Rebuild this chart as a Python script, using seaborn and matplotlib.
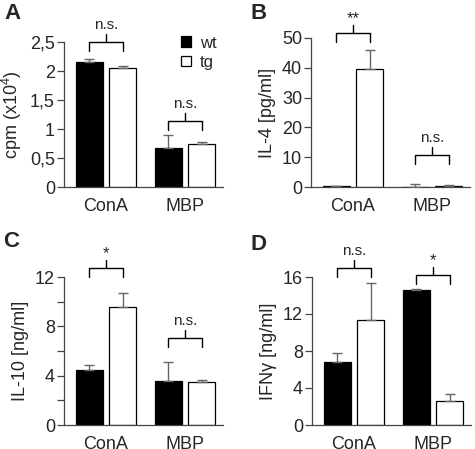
import pandas as pd
import seaborn as sns
import numpy as np
import matplotlib.pyplot as plt

# data
groups = ["ConA", "MBP"]
genotypes = ["wt", "tg"]

cpm_wt = [2.15, 0.68]
cpm_tg = [2.05, 0.75]
cpm_wt_err = [0.05, 0.21]
cpm_tg_err = [0.04, 0.02]

il4_wt = [0.3, 0.1]
il4_tg = [39.5, 0.2]
il4_wt_err = [0.1, 0.8]
il4_tg_err = [6.5, 0.5]

il10_wt = [4.5, 3.6]
il10_tg = [9.6, 3.45]
il10_wt_err = [0.35, 1.5]
il10_tg_err = [1.1, 0.2]

ifng_wt = [6.8, 14.6]
ifng_tg = [11.4, 2.6]
ifng_wt_err = [1.0, 0.15]
ifng_tg_err = [3.9, 0.8]

# significance marks per group
sig_a = ["n.s.", "n.s."]
sig_b = ["**", "n.s."]
sig_c = ["*", "n.s."]
sig_d = ["n.s.", "*"]
# height of bracket bar (data units)
brk_a = [2.5, 1.14]
brk_b = [51.7, 10.7]
brk_c = [12.73, 7.05]
brk_d = [16.97, 16.2]

ylabels = ["cpm (x10$^4$)", "IL-4 [pg/ml]", "IL-10 [ng/ml]", "IFNγ [ng/ml]"]
a_ticks = [0, 0.5, 1, 1.5, 2, 2.5]
a_ticklabels = ["0", "0,5", "1", "1,5", "2", "2,5"]

sns.set_style("ticks")
plt.rcParams['font.family'] = ['Liberation Sans', 'DejaVu Sans']
plt.rcParams['mathtext.fontset'] = 'custom'
plt.rcParams['mathtext.rm'] = 'Liberation Sans'

W, H = 475, 449
fig = plt.figure(figsize=(W / 100, H / 100), dpi=100)

def make_ax(left, bottom_px, height_px, width_px=159):
    return fig.add_axes([left / W, (H - bottom_px) / H, width_px / W, height_px / H])

axA = make_ax(64, 187, 145)
axB = make_ax(311, 187, 149)
axC = make_ax(64, 425, 148)
axD = make_ax(312, 425, 148)

panels = [
    (axA, cpm_wt, cpm_tg, cpm_wt_err, cpm_tg_err, sig_a, brk_a, 2.5),
    (axB, il4_wt, il4_tg, il4_wt_err, il4_tg_err, sig_b, brk_b, 50),
    (axC, il10_wt, il10_tg, il10_wt_err, il10_tg_err, sig_c, brk_c, 12),
    (axD, ifng_wt, ifng_tg, ifng_wt_err, ifng_tg_err, sig_d, brk_d, 16),
]

linecol = "#444444"
for i, (ax, wt, tg, wt_err, tg_err, sig, brk, ymax) in enumerate(panels):
    df = pd.DataFrame({
        "group": groups * 2,
        "genotype": ["wt"] * 2 + ["tg"] * 2,
        "value": wt + tg,
    })
    sns.barplot(data=df, x="group", y="value", hue="genotype", hue_order=genotypes,
                palette={"wt": "black", "tg": "white"}, edgecolor="black",
                linewidth=0.9, width=0.84, gap=0.2, errorbar=None, ax=ax,
                legend=(i == 0))
    # upward-only error bars
    for cont, errs in zip(ax.containers, [wt_err, tg_err]):
        xs = [p.get_x() + p.get_width() / 2 for p in cont.patches]
        ys = [p.get_height() for p in cont.patches]
        ax.errorbar(xs, ys, yerr=[np.zeros(len(errs)), errs], fmt="none",
                    ecolor="#666666", elinewidth=1.0, capsize=3.6, capthick=1.0,
                    zorder=3)
    ax.set_xlim(-0.53, 1.48)
    ax.set_ylim(0, ymax)
    ax.set_xlabel("")
    ax.set_ylabel(ylabels[i], fontsize=13, labelpad=4)
    sns.despine(ax=ax)
    for s in ["left", "bottom"]:
        ax.spines[s].set_color(linecol)
        ax.spines[s].set_linewidth(0.9)
    ax.tick_params(axis="y", length=5, width=0.9, color=linecol, labelsize=13, pad=1.5)
    ax.tick_params(axis="x", length=0, labelsize=13, pad=8)
    ax.tick_params(axis="y", which="minor", length=5, width=0.9, color=linecol)

    # significance brackets
    unit = ymax / 147.0
    for g, (txt, yb) in enumerate(zip(sig, brk)):
        hw = 0.22
        xl, xr = g - hw, g + hw
        ax.plot([xl, xl, xr, xr], [yb - 9 * unit, yb, yb, yb - 9 * unit],
                color="black", lw=1.0, clip_on=False)
        ax.plot([g, g], [yb, yb + 8 * unit], color="black", lw=1.0, clip_on=False)
        if "*" in txt:
            ax.text(g, yb + 7 * unit, txt, ha="center", va="bottom", fontsize=12,
                    clip_on=False)
        else:
            ax.text(g, yb + 10 * unit, txt, ha="center", va="bottom", fontsize=11,
                    clip_on=False)

axA.set_yticks(a_ticks)
axA.set_yticklabels(a_ticklabels)
axB.set_yticks(range(0, 51, 10))
axC.set_yticks([0, 4, 8, 12])
axC.set_yticks([2, 6, 10], minor=True)
axD.set_yticks([0, 4, 8, 12, 16])

sns.move_legend(axA, loc="upper right", bbox_to_anchor=(1.0, 1.09), frameon=False,
                title=None, fontsize=12, handlelength=0.6, handleheight=0.6,
                handletextpad=0.5, labelspacing=0.25, borderaxespad=0)

for letter, x, y in [("A", 4, 3), ("B", 250, 3), ("C", 3, 231), ("D", 250, 234)]:
    fig.text(x / W, 1 - y / H, letter, fontsize=16, fontweight="bold",
             ha="left", va="top")

fig.savefig("out.png", dpi=100)
